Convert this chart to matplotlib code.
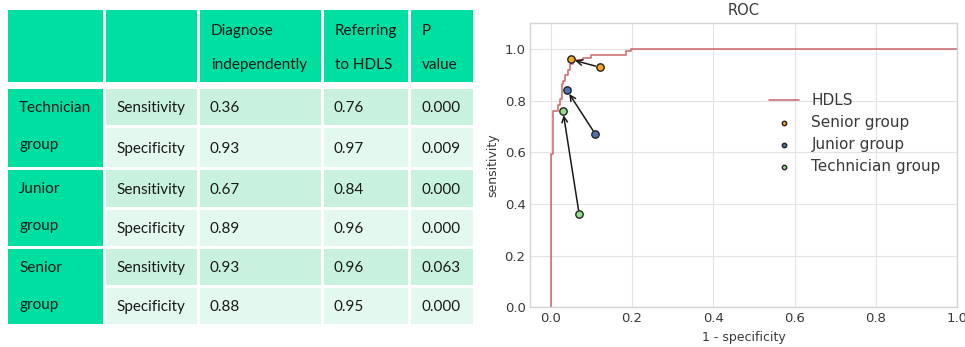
import matplotlib.pyplot as plt
from matplotlib.patches import Rectangle

# table contents
header = ["", "", "Diagnose\nindependently", "Referring\nto HDLS", "P\nvalue"]
groups = ["Technician\ngroup", "Junior\ngroup", "Senior\ngroup"]
measures = ["Sensitivity", "Specificity"]
independent = [[0.36, 0.93], [0.67, 0.89], [0.93, 0.88]]
with_hdls = [[0.76, 0.97], [0.84, 0.96], [0.96, 0.95]]
p_values = [["0.000", "0.009"], ["0.000", "0.000"], ["0.063", "0.000"]]

# ROC curve of HDLS (corner points)
roc_fpr = [0, 0.005, 0.019, 0.023, 0.027, 0.031, 0.035, 0.042, 0.047,
           0.055, 0.08, 0.1, 0.186, 0.198, 1.0]
roc_tpr = [0, 0.595, 0.762, 0.785, 0.807, 0.865, 0.878, 0.90, 0.919,
           0.942, 0.957, 0.967, 0.978, 0.991, 1.0]

# operating points: (1 - specificity, sensitivity)
point_names = ["Senior group", "Junior group", "Technician group"]
point_colors = ["#f5a623", "#4c72b0", "#8fe08a"]
before_x = [0.12, 0.11, 0.07]
before_y = [0.93, 0.67, 0.36]
after_x = [0.05, 0.04, 0.03]
after_y = [0.96, 0.84, 0.76]

plt.style.use("seaborn-v0_8-whitegrid")
plt.rcParams["font.family"] = ["DejaVu Sans"]
plt.rcParams["grid.color"] = "#e3e3e3"
plt.rcParams["axes.edgecolor"] = "#d4d4d4"
fig = plt.figure(figsize=(9.65, 3.47), dpi=100)

# ---- table on the left, laid out in pixels ----
tab = fig.add_axes([0, 0, 1, 1])
tab.set_xlim(0, 965)
tab.set_ylim(347, 0)
tab.axis("off")

col_x = [(8, 103), (106, 197), (200, 321), (324, 408), (411, 473)]
head_y = (10, 82)
row_y = [(89, 125), (128, 167), (170, 207), (210, 246), (249, 285), (288, 324)]
c_head = "#00dfa2"
c_sens = "#c8f2de"
c_spec = "#e3f8ef"
tfont = dict(family="Lato", fontsize=11, color="#1a1a1a", va="center", ha="left")

for (x0, x1), txt in zip(col_x, header):
    tab.add_patch(Rectangle((x0, head_y[0]), x1 - x0, head_y[1] - head_y[0],
                            color=c_head, lw=0))
    if txt:
        a, b = txt.split("\n")
        tab.text(x0 + 11, 31, a, **tfont)
        tab.text(x0 + 11, 65, b, **tfont)

for g, name in enumerate(groups):
    top = row_y[2 * g][0] if g == 0 else row_y[2 * g - 1][1] + 3
    bot = row_y[2 * g + 1][1]
    x0, x1 = col_x[0]
    tab.add_patch(Rectangle((x0, top), x1 - x0, bot - top, color=c_head, lw=0))
    a, b = name.split("\n")
    tab.text(x0 + 11, top + 19, a, **tfont)
    tab.text(x0 + 11, top + 56, b, **tfont)
    for m in range(2):
        y0, y1 = row_y[2 * g + m]
        fill = c_sens if m == 0 else c_spec
        cells = [measures[m], f"{independent[g][m]:.2f}",
                 f"{with_hdls[g][m]:.2f}", p_values[g][m]]
        for (cx0, cx1), txt in zip(col_x[1:], cells):
            tab.add_patch(Rectangle((cx0, y0), cx1 - cx0, y1 - y0,
                                    color=fill, lw=0))
            tab.text(cx0 + 10, (y0 + y1) / 2 + 1, txt, **tfont)

# ---- ROC plot on the right ----
ax = fig.add_axes([0.5497, 0.1144, 0.4420, 0.8184])
ax.plot(roc_fpr, roc_tpr, drawstyle="steps-pre", color="#c44e52",
        alpha=0.8, lw=1.2, label="HDLS")
for i in range(3):
    ax.annotate("", xy=(after_x[i], after_y[i]),
                xytext=(before_x[i], before_y[i]),
                arrowprops=dict(arrowstyle="->", color="#1a1a1a", lw=1.1,
                                shrinkA=3, shrinkB=3))
    ax.scatter([before_x[i], after_x[i]], [before_y[i], after_y[i]],
               s=28, color=point_colors[i], edgecolor="#222222",
               linewidth=1, zorder=3, label=point_names[i])

ax.set_xlim(-0.05, 1.0)
ax.set_ylim(0, 1.1)
ax.set_xticks([0, 0.2, 0.4, 0.6, 0.8, 1.0])
ax.set_yticks([0, 0.2, 0.4, 0.6, 0.8, 1.0])
ax.tick_params(labelsize=9.5, colors="#3a3a3a")
ax.set_title("ROC", fontsize=10.5, color="#3a3a3a")
ax.set_xlabel("1 - specificity", fontsize=9, color="#3a3a3a")
ax.set_ylabel("sensitivity", fontsize=9, color="#3a3a3a")
ax.legend(loc="center left", bbox_to_anchor=(0.526, 0.612), fontsize=11,
          frameon=False, markerscale=0.6, labelcolor="#3a3a3a",
          handlelength=2.0, labelspacing=0.45)

fig.savefig("out.png", dpi=100)
